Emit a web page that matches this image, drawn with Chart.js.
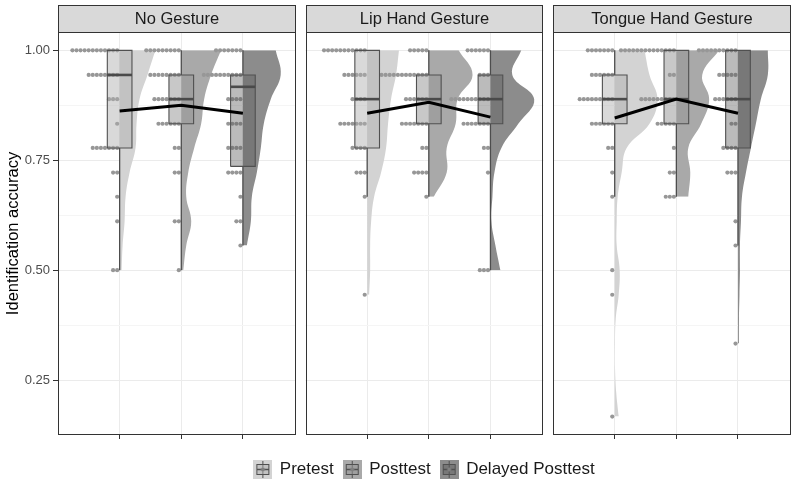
<!DOCTYPE html>
<html><head><meta charset="utf-8">
<script src="https://cdn.jsdelivr.net/npm/chart.js@4.4.1/dist/chart.umd.min.js"></script>
<style>html,body{margin:0;padding:0;background:#fff;}#wrap{position:relative;width:795px;height:488px;}</style>
</head><body><div id="wrap"><canvas id="c" width="795" height="488" style="width:795px;height:488px"></canvas></div>
<script>
const panels = ['No Gesture', 'Lip Hand Gesture', 'Tongue Hand Gesture'];
const phases = ['Pretest', 'Posttest', 'Delayed Posttest'];
const levels = [1.000, 0.944, 0.889, 0.833, 0.778, 0.722, 0.667, 0.611, 0.556, 0.500, 0.444, 0.389, 0.333, 0.278, 0.222, 0.167];
const yGridValues = [0.25, 0.375, 0.50, 0.625, 0.75, 0.875, 1.00];
const yTickValues = [0.25, 0.50, 0.75, 1.00];
const yTickLabels = ['0.25', '0.50', '0.75', '1.00'];

// dot counts per score level (from 1.00 downward): Pretest, Posttest, Delayed
const dotsNoGesture = [[12,8,3,1,7,2,1,1,0,2], [9,8,7,6,2,2,0,2,0,1], [7,10,4,4,4,4,1,2,1]];
const dotsLipHand = [[11,6,4,7,4,3,1,0,0,0,1], [5,12,6,7,2,4,1], [6,3,10,7,2,1,0,0,0,3]];
const dotsTongueHand = [[7,6,9,6,2,1,1,0,0,1,1,0,0,0,0,1], [14,2,9,5,1,2,3], [10,5,6,2,4,3,0,1,1,0,0,0,1]];

// half-violin density per level (from 1.00 downward to each group's minimum)
const densNoGesture = [[36,28,20,17,16,10,6,5,3,2], [40,30,23,20,13,7,5,10,5,2], [33,38,28,21,18,14,9,8,4]];
const densLipHand = [[32,29,24,21,19,14,7,4,3,3,2], [30,44,29,27,18,18,5], [31,22,44,28,11,4,2,1,5,10]];
const densTongueHand = [[30,35,43,35,12,7,3,2,2,5,4,1,0.3,0.3,1.5,4], [43,26,33,25,12,14,12], [30,30,23,18,13,8,4,3,2,2,1.5,1,1]];

// boxplot [q1, median, q3]
const boxNoGesture = [[0.778,0.944,1.000], [0.833,0.889,0.944], [0.736,0.917,0.944]];
const boxLipHand = [[0.778,0.889,1.000], [0.833,0.889,0.944], [0.833,0.889,0.944]];
const boxTongueHand = [[0.833,0.889,0.944], [0.833,0.889,1.000], [0.778,0.889,1.000]];
// whiskers [low, high]
const whiskNoGesture = [[0.500,1.0], [0.500,1.0], [0.556,1.0]];
const whiskLipHand = [[0.667,1.0], [0.667,1.0], [0.500,1.0]];
const whiskTongueHand = [[0.667,1.0], [0.667,1.0], [0.556,1.0]];
// group means
const meanNoGesture = [0.862, 0.875, 0.857];
const meanLipHand = [0.857, 0.882, 0.848];
const meanTongueHand = [0.846, 0.889, 0.857];

const allDots = [dotsNoGesture, dotsLipHand, dotsTongueHand];
const allDens = [densNoGesture, densLipHand, densTongueHand];
const allBox = [boxNoGesture, boxLipHand, boxTongueHand];
const allWhisk = [whiskNoGesture, whiskLipHand, whiskTongueHand];
const allMean = [meanNoGesture, meanLipHand, meanTongueHand];

// styling / layout
const FONT = '"Liberation Sans", Arial, Helvetica, sans-serif';
const X_OFF = 4.016, PANEL_W = 3.86, BOX_HW = 0.2, DENS_SCALE = 1 / 62, DOT_STEP = 0.066, DOT_START = 0.04;
const violinCol = ['#d3d3d3', '#a9a9a9', '#8c8c8c'];
const boxCol = ['rgba(174,174,174,0.47)', 'rgba(152,152,152,0.53)', 'rgba(94,94,94,0.42)'];
const center = (p, g) => p * X_OFF + g + 1;
const xTicks = [];
for (let p = 0; p < 3; p++) for (let g = 0; g < 3; g++) xTicks.push(center(p, g));

const datasets = [];
for (let p = 0; p < 3; p++) {
  for (let g = 0; g < 3; g++) {
    const c = center(p, g);
    const dens = allDens[p][g];
    datasets.push({type: 'line', indexAxis: 'y', order: 6,
      data: dens.map((d, i) => ({x: c + d * DENS_SCALE, y: levels[i]})),
      fill: {value: c}, backgroundColor: violinCol[g], borderColor: 'rgba(0,0,0,0)', borderWidth: 0,
      pointRadius: 0, tension: 0.4});
    const pts = [];
    allDots[p][g].forEach((n, i) => { for (let k = 0; k < n; k++) pts.push({x: c - DOT_START - k * DOT_STEP, y: levels[i]}); });
    datasets.push({type: 'scatter', order: 5, data: pts, pointRadius: 2.1, pointBackgroundColor: '#979797', pointBorderWidth: 0, backgroundColor: '#979797'});
    const [lo, hi] = allWhisk[p][g];
    const [q1, med, q3] = allBox[p][g];
    datasets.push({type: 'line', order: 4, data: [{x: c, y: lo}, {x: c, y: q1}, {x: c, y: null}, {x: c, y: q3}, {x: c, y: hi}],
      borderColor: '#4d4d4d', borderWidth: 1.3, pointRadius: 0, spanGaps: false, fill: false});
    datasets.push({type: 'line', order: 3, data: [{x: c - BOX_HW, y: q1}, {x: c + BOX_HW, y: q1}, {x: c + BOX_HW, y: q3}, {x: c - BOX_HW, y: q3}, {x: c - BOX_HW, y: q1}],
      fill: 'shape', backgroundColor: boxCol[g], borderColor: '#505050', borderWidth: 1.1, pointRadius: 0, tension: 0});
    datasets.push({type: 'line', order: 2, data: [{x: c - BOX_HW, y: med}, {x: c + BOX_HW, y: med}],
      borderColor: '#4a4a4a', borderWidth: 2.6, pointRadius: 0, fill: false});
  }
  datasets.push({type: 'line', order: 0, data: allMean[p].map((m, g) => ({x: center(p, g), y: m})),
    borderColor: '#000', borderWidth: 3, pointRadius: 0, fill: false, tension: 0});
}

function makeIcon(bg, fillc) {
  const S = 19, h = S / 2;
  const cv = document.createElement('canvas'); cv.width = S; cv.height = S;
  const g = cv.getContext('2d');
  g.fillStyle = bg; g.fillRect(0, 0, S, S);
  g.strokeStyle = '#505050'; g.lineWidth = 1;
  g.beginPath(); g.moveTo(h, 1); g.lineTo(h, S - 1); g.stroke();
  g.fillStyle = fillc; g.fillRect(3.5, 4.5, S - 7, S - 9); g.strokeRect(3.5, 4.5, S - 7, S - 9);
  g.lineWidth = 1.5; g.beginPath(); g.moveTo(3.5, h); g.lineTo(S - 3.5, h); g.stroke();
  g.fillStyle = '#808080'; g.beginPath(); g.arc(h, h, 2, 0, Math.PI * 2); g.fill();
  return cv;
}
const icons = phases.map((p, i) => makeIcon(violinCol[i], boxCol[i]));

const facetPlugin = {
  id: 'facets',
  beforeDatasetsDraw(chart) {
    const {ctx, chartArea: a, scales: {x}} = chart;
    ctx.save(); ctx.fillStyle = '#fff';
    for (let k = 0; k < 2; k++) {
      const l = x.getPixelForValue(k * X_OFF + PANEL_W), r = x.getPixelForValue((k + 1) * X_OFF);
      ctx.fillRect(l, a.top - 1, r - l, a.bottom - a.top + 2);
    }
    ctx.restore();
  },
  afterDatasetsDraw(chart) {
    const {ctx, chartArea: a, scales: {x}} = chart;
    ctx.save();
    ctx.strokeStyle = '#333'; ctx.lineWidth = 1;
    for (let k = 0; k < 3; k++) {
      const l = Math.round(x.getPixelForValue(k * X_OFF)), r = Math.round(x.getPixelForValue(k * X_OFF + PANEL_W));
      ctx.strokeRect(l + 0.5, Math.round(a.top) + 0.5, r - l - 1, Math.round(a.bottom - a.top) - 1);
      ctx.fillStyle = '#d9d9d9';
      ctx.fillRect(l, 5, r - l, Math.round(a.top) - 5);
      ctx.strokeRect(l + 0.5, 5.5, r - l - 1, Math.round(a.top) - 5);
      ctx.fillStyle = '#1a1a1a'; ctx.font = '16.5px ' + FONT; ctx.textAlign = 'center'; ctx.textBaseline = 'middle';
      ctx.fillText(panels[k], (l + r) / 2, (5 + a.top) / 2 + 1);
    }
    ctx.restore();
  }
};

Chart.defaults.font.family = FONT;
new Chart(document.getElementById('c'), {
  type: 'line',
  data: {datasets},
  options: {
    responsive: false, animation: false, devicePixelRatio: 1, events: [],
    layout: {padding: {top: 32, left: 0, right: 0, bottom: 0}},
    plugins: {
      tooltip: {enabled: false},
      legend: {position: 'bottom', fullSize: false, onClick: null,
        labels: {usePointStyle: true, boxWidth: 19, boxHeight: 19, padding: 10, color: '#1a1a1a', font: {size: 17, family: FONT},
          generateLabels: () => phases.map((p, i) => ({text: p, pointStyle: icons[i], fillStyle: violinCol[i], strokeStyle: '#505050', lineWidth: 0, hidden: false, fontColor: '#1a1a1a'}))}}
    },
    scales: {
      x: {type: 'linear', min: 0, max: 2 * X_OFF + PANEL_W,
        afterBuildTicks: s => { s.ticks = xTicks.map(v => ({value: v})); },
        ticks: {callback: () => '', autoSkip: false, maxRotation: 0, padding: 0},
        grid: {color: '#ebebeb', lineWidth: 1, tickColor: '#333', tickLength: 4},
        border: {display: false},
        afterFit: s => { s.height = 16; }},
      y: {type: 'linear', min: 0.125, max: 1.0417,
        afterBuildTicks: s => { s.ticks = yGridValues.map(v => ({value: v})); },
        ticks: {autoSkip: false, color: '#4d4d4d', font: {size: 13}, padding: 3,
          callback: v => { const i = yTickValues.findIndex(t => Math.abs(t - v) < 1e-6); return i >= 0 ? yTickLabels[i] : ''; }},
        grid: {lineWidth: 1, tickLength: 5,
          color: c => yTickValues.some(t => Math.abs(t - c.tick.value) < 1e-6) ? '#ebebeb' : '#f5f5f5',
          tickColor: c => yTickValues.some(t => Math.abs(t - c.tick.value) < 1e-6) ? '#333' : 'rgba(0,0,0,0)'},
        border: {display: false},
        title: {display: true, text: 'Identification accuracy', color: '#000', font: {size: 16.5}, padding: {top: 4, bottom: 0}},
        afterFit: s => { s.width = 58; }}
    }
  },
  plugins: [facetPlugin]
});
</script></body></html>
